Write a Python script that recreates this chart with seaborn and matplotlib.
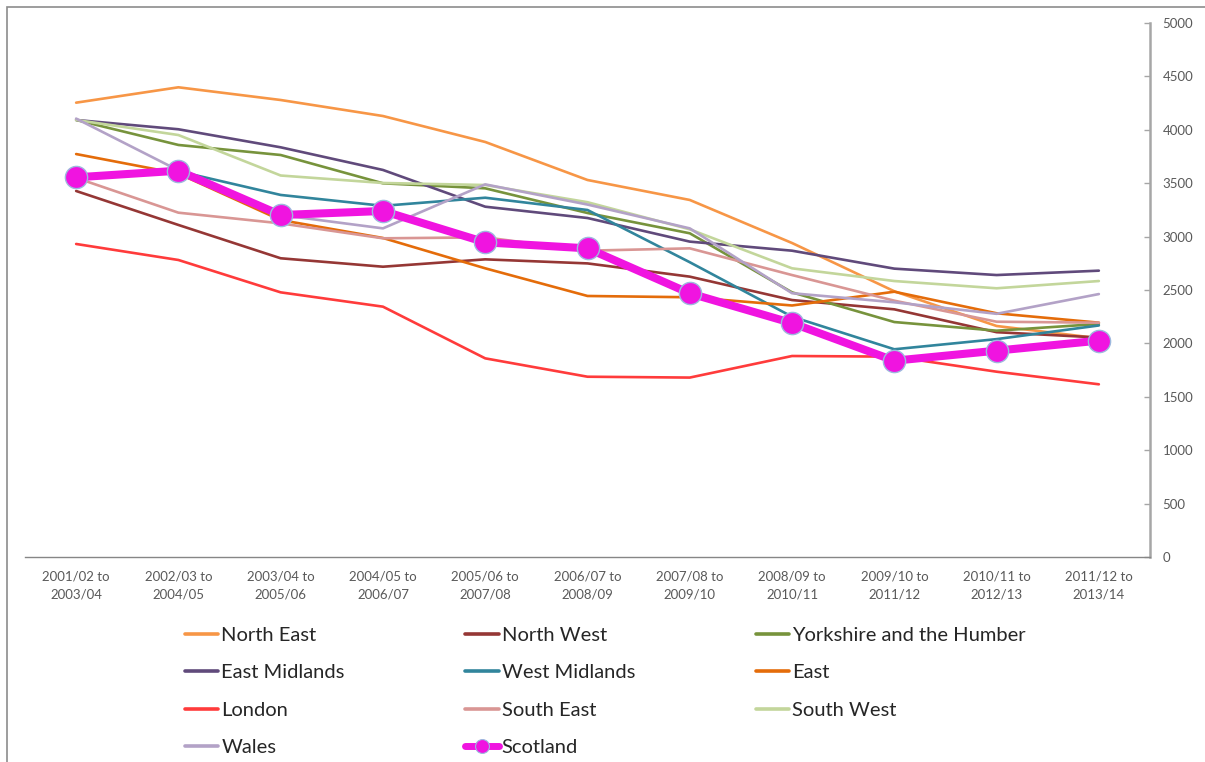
import matplotlib
matplotlib.use("Agg")
import matplotlib.pyplot as plt
import matplotlib.patches as mpatches
from matplotlib.lines import Line2D
import seaborn as sns
import pandas as pd

# Three-year rolling periods on the category axis
periods = ["2001/02 to\n2003/04", "2002/03 to\n2004/05", "2003/04 to\n2005/06",
           "2004/05 to\n2006/07", "2005/06 to\n2007/08", "2006/07 to\n2008/09",
           "2007/08 to\n2009/10", "2008/09 to\n2010/11", "2009/10 to\n2011/12",
           "2010/11 to\n2012/13", "2011/12 to\n2013/14"]

north_east = [4254, 4398, 4279, 4129, 3886, 3530, 3343, 2940, 2488, 2163, 2048]
north_west = [3427, 3109, 2797, 2718, 2787, 2749, 2625, 2406, 2319, 2105, 2055]
yorkshire = [4092, 3858, 3764, 3499, 3452, 3221, 3031, 2478, 2200, 2119, 2182]
east_midlands = [4092, 4005, 3836, 3624, 3280, 3174, 2953, 2868, 2700, 2640, 2681]
west_midlands = [3570, 3612, 3390, 3288, 3364, 3249, 2760, 2250, 1945, 2040, 2168]
east = [3773, 3590, 3155, 2987, 2703, 2444, 2432, 2355, 2484, 2282, 2194]
london = [2931, 2781, 2478, 2344, 1860, 1688, 1680, 1882, 1876, 1735, 1617]
south_east = [3550, 3224, 3124, 2984, 2993, 2868, 2890, 2640, 2400, 2203, 2194]
south_west = [4092, 3951, 3572, 3502, 3483, 3322, 3068, 2703, 2584, 2516, 2584]
wales = [4105, 3620, 3202, 3077, 3489, 3300, 3077, 2470, 2385, 2277, 2462]
scotland = [3555, 3617, 3202, 3240, 2946, 2890, 2469, 2190, 1838, 1932, 2026]

regions = ["North East", "North West", "Yorkshire and the Humber", "East Midlands",
           "West Midlands", "East", "London", "South East", "South West", "Wales"]
region_values = [north_east, north_west, yorkshire, east_midlands, west_midlands,
                 east, london, south_east, south_west, wales]
region_colors = ["#F79646", "#953735", "#77933C", "#604A7B", "#31859C",
                 "#E46C0A", "#FF3B3B", "#D99694", "#C3D69B", "#B3A2C7"]
scotland_color = "#F014E0"

sns.set_style("white")
plt.rcParams["font.family"] = ["Lato", "DejaVu Sans"]

positions = list(range(len(periods)))
long_df = pd.DataFrame({
    "period": [p for _ in regions for p in positions],
    "value": [v for vals in region_values for v in vals],
    "region": [r for r in regions for _ in positions],
})
scot_df = pd.DataFrame({"period": positions, "value": scotland})

fig = plt.figure(figsize=(12.05, 7.62), dpi=100)
W, H = 1205, 762
ax = fig.add_axes([25 / W, 1 - 557 / H, (1150 - 25) / W, (557 - 23) / H])

sns.lineplot(data=long_df, x="period", y="value", hue="region", hue_order=regions,
             palette=dict(zip(regions, region_colors)), linewidth=1.9,
             sort=False, legend=False, ax=ax)
sns.lineplot(data=scot_df, x="period", y="value", color=scotland_color, linewidth=5.8,
             marker="o", markersize=16, markerfacecolor=scotland_color,
             markeredgecolor="#9DB9DE", markeredgewidth=1.0, ax=ax, zorder=5)

ax.set_xlim(-0.5, len(periods) - 0.5)
ax.set_ylim(0, 5000)
ax.set_xlabel("")
ax.set_ylabel("")

# Value axis on the right
ax.yaxis.tick_right()
ax.set_yticks(range(0, 5001, 500))
ax.tick_params(axis="y", direction="in", length=4, width=1, color="#A6A6A6",
               pad=9, labelsize=9.5, labelcolor="#595959")

# Category axis with ticks between periods
ax.set_xticks(positions)
ax.set_xticklabels(periods, linespacing=1.6)
ax.set_xticks([p - 0.5 for p in range(len(periods) + 1)], minor=True)
ax.tick_params(axis="x", which="major", length=0, pad=10, labelsize=9.5,
               labelcolor="#595959")
ax.tick_params(axis="x", which="minor", length=4, width=1, color="#868686",
               direction="out")

for side in ["left", "top"]:
    ax.spines[side].set_visible(False)
ax.spines["right"].set_color("#A6A6A6")
ax.spines["right"].set_linewidth(1.8)
ax.spines["bottom"].set_color("#868686")
ax.spines["bottom"].set_linewidth(1.0)
ax.grid(False)

# Chart-area border
fig.patches.append(mpatches.Rectangle((7 / W, -0.1), 1.2, 1 - 7 / H + 0.1,
                                      transform=fig.transFigure, fill=False,
                                      edgecolor="#8C8C8C", linewidth=1.2))

# Legend laid out row by row in three columns
handles = {r: Line2D([], [], color=c, linewidth=2.6) for r, c in zip(regions, region_colors)}
handles["Scotland"] = Line2D([], [], color=scotland_color, linewidth=5.0, marker="o",
                             markersize=10, markerfacecolor=scotland_color,
                             markeredgecolor="#9DB9DE", markeredgewidth=0.8)
order = ["North East", "East Midlands", "London", "Wales",
         "North West", "West Midlands", "South East", "Scotland",
         "Yorkshire and the Humber", "East", "South West"]
fig.legend([handles[k] for k in order], order, ncol=3, loc="upper left",
           bbox_to_anchor=(185 / W, 1 - 627 / H), frameon=False, fontsize=14.5,
           handlelength=1.65, handletextpad=0.15, columnspacing=6.0,
           labelspacing=1.0, borderpad=0, borderaxespad=0)

fig.savefig("out.png", dpi=100, facecolor="white")
